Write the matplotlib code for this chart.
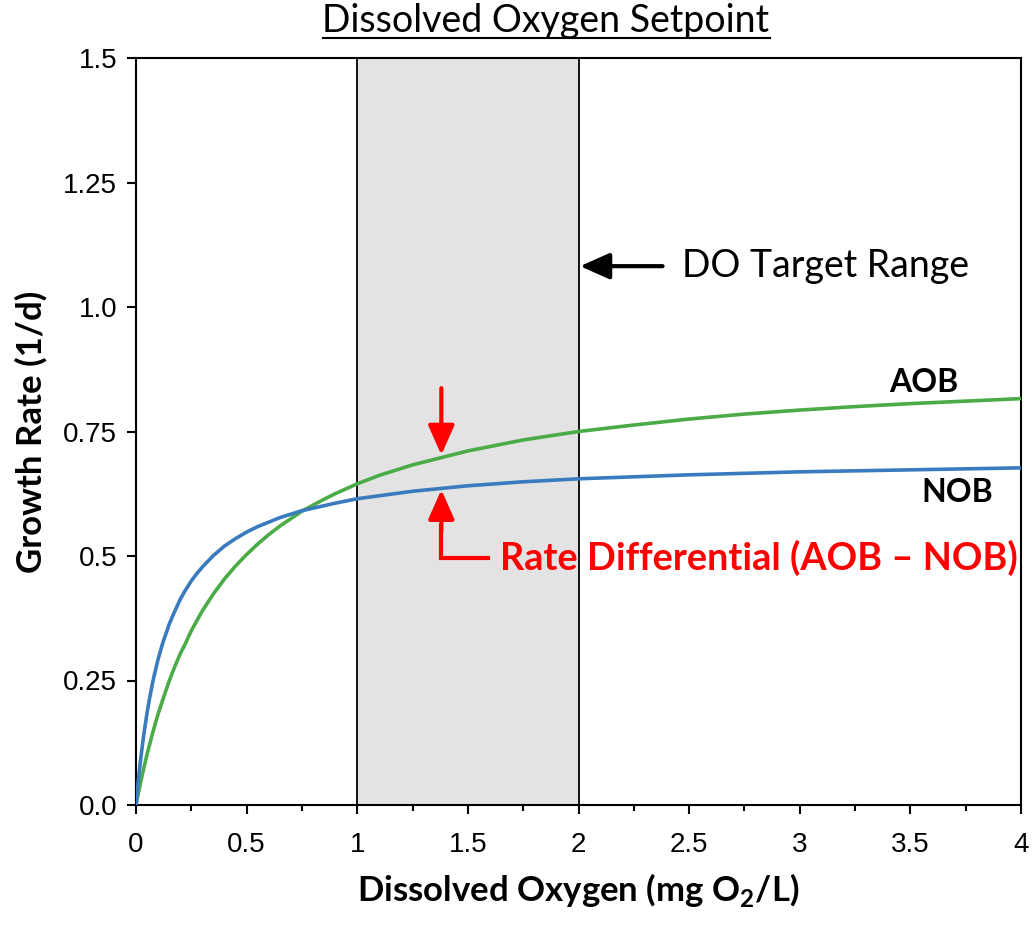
import matplotlib
matplotlib.use("Agg")
import matplotlib.pyplot as plt
from matplotlib.lines import Line2D

# ---- data ----
do_x = [0, 0.005, 0.01, 0.015, 0.02, 0.03, 0.04, 0.05, 0.06, 0.07, 0.08, 0.1, 0.12, 0.15,
        0.17, 0.2, 0.22, 0.25, 0.27, 0.3, 0.35, 0.4, 0.45, 0.5, 0.55, 0.6, 0.65, 0.7, 0.75,
        0.85, 0.9, 1.0, 1.1, 1.25, 1.5, 1.75, 2.0, 2.25, 2.5, 2.75, 3.0, 3.25, 3.5, 3.75, 4.0]
aob = [0, 0.011, 0.022, 0.033, 0.044, 0.064, 0.083, 0.102, 0.119, 0.136, 0.152, 0.183,
       0.210, 0.249, 0.272, 0.304, 0.321, 0.350, 0.366, 0.390, 0.424, 0.454, 0.480, 0.503,
       0.524, 0.543, 0.560, 0.575, 0.590, 0.614, 0.625, 0.645, 0.662, 0.683, 0.711, 0.733,
       0.750, 0.763, 0.775, 0.785, 0.793, 0.800, 0.806, 0.811, 0.816]
nob = [0, 0.024, 0.047, 0.068, 0.088, 0.124, 0.156, 0.185, 0.211, 0.234, 0.256, 0.293,
       0.324, 0.363, 0.384, 0.413, 0.429, 0.450, 0.462, 0.478, 0.501, 0.520, 0.535, 0.548,
       0.559, 0.568, 0.577, 0.584, 0.591, 0.601, 0.606, 0.615, 0.621, 0.630, 0.641, 0.649,
       0.655, 0.659, 0.663, 0.666, 0.669, 0.671, 0.673, 0.675, 0.677]
target_range = [1.0, 2.0]
x_ticks = [0, 0.5, 1, 1.5, 2, 2.5, 3, 3.5, 4]
x_tick_labels = ["0", "0.5", "1", "1.5", "2", "2.5", "3", "3.5", "4"]
x_minor = [0.25, 0.75, 1.25, 1.75, 2.25, 2.75, 3.25, 3.75]
y_ticks = [0.0, 0.25, 0.5, 0.75, 1.0, 1.25, 1.5]
y_tick_labels = ["0.0", "0.25", "0.5", "0.75", "1.0", "1.25", "1.5"]
diff_x = 1.38

fig = plt.figure(figsize=(10.36, 9.27), dpi=100)
ax = fig.add_axes([136/1036, 1-805/927, 885/1036, 747/927])

ax.axvspan(target_range[0], target_range[1], facecolor="#e3e3e3", edgecolor="none", zorder=0)
for xv in target_range:
    ax.axvline(xv, color="black", lw=1.3, zorder=1)

ax.plot(do_x, aob, color="#4aab47", lw=2.6, zorder=3, solid_capstyle="round",
        solid_joinstyle="round")
ax.plot(do_x, nob, color="#3a7bbf", lw=2.6, zorder=4, solid_capstyle="round",
        solid_joinstyle="round")

ax.set_xlim(0, 4)
ax.set_ylim(0, 1.5)
ax.set_xticks(x_ticks)
ax.set_xticklabels(x_tick_labels)
ax.set_xticks(x_minor, minor=True)
ax.set_yticks(y_ticks)
ax.set_yticklabels(y_tick_labels)
for s in ax.spines.values():
    s.set_linewidth(1.5)
ax.tick_params(axis="both", which="major", direction="out", length=6.5, width=1.5,
               colors="black")
ax.tick_params(axis="x", which="major", pad=13)
ax.tick_params(axis="y", which="major", pad=7)
ax.tick_params(axis="x", which="minor", direction="out", length=4.5, width=1.5)
for lab in ax.get_xticklabels() + ax.get_yticklabels():
    lab.set_fontfamily(["Liberation Sans", "DejaVu Sans"])
    lab.set_fontsize(20)

lab_font = ["Lato", "DejaVu Sans"]
ax.set_xlabel(r"Dissolved Oxygen (mg O$_\mathregular{2}$/L)", fontsize=25, fontweight="bold",
              family=lab_font, labelpad=9)
ax.set_ylabel("Growth Rate (1/d)", fontsize=25, fontweight="bold", family=lab_font, labelpad=11)

# annotations
ax.annotate("", xy=(2.007, 1.082), xytext=(2.38, 1.082),
            arrowprops=dict(arrowstyle="-|>,head_length=0.9,head_width=0.4", color="black", lw=3,
                            shrinkA=0, shrinkB=0, mutation_scale=20))
ax.text(2.47, 1.082, "DO Target Range", fontsize=27, family=lab_font, va="center", ha="left")

ax.annotate("", xy=(diff_x, 0.703), xytext=(diff_x, 0.837),
            arrowprops=dict(arrowstyle="-|>,head_length=0.9,head_width=0.4", color="red", lw=3,
                            shrinkA=0, shrinkB=0, mutation_scale=20))
ax.plot([1.59, diff_x, diff_x], [0.496, 0.496, 0.56], color="red", lw=3, zorder=5,
        solid_joinstyle="miter")
ax.annotate("", xy=(diff_x, 0.633), xytext=(diff_x, 0.55),
            arrowprops=dict(arrowstyle="-|>,head_length=0.9,head_width=0.4", color="red", lw=3,
                            shrinkA=0, shrinkB=0, mutation_scale=20))
ax.text(1.645, 0.496, "Rate Differential (AOB \u2013 NOB)", fontsize=27.3, fontweight="bold",
        color="red", family=lab_font, va="center", ha="left")

ax.text(3.56, 0.849, "AOB", fontsize=23, fontweight="bold", family=lab_font, ha="center", va="center")
ax.text(3.71, 0.627, "NOB", fontsize=23, fontweight="bold", family=lab_font, ha="center", va="center")

title = fig.text(546/1036, 1-21/927, "Dissolved Oxygen Setpoint", fontsize=27, family=lab_font,
                 ha="center", va="center")
fig.canvas.draw()
bb = title.get_window_extent(renderer=fig.canvas.get_renderer())
uy = (bb.y0 + 1) / fig.bbox.height
fig.add_artist(Line2D([bb.x0 / fig.bbox.width, bb.x1 / fig.bbox.width], [uy, uy],
                      transform=fig.transFigure, color="black", lw=1.5))

fig.savefig("out.png", dpi=100)
